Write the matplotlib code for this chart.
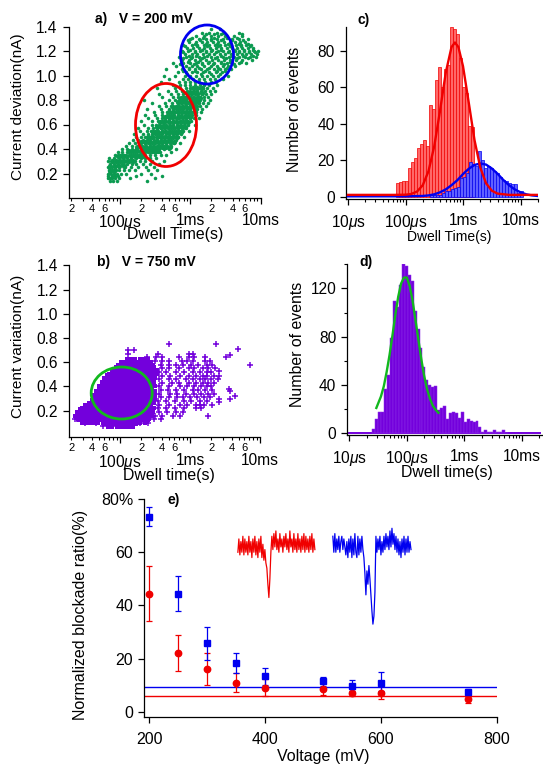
import numpy as np
import matplotlib
matplotlib.use("Agg")
import matplotlib.pyplot as plt
from matplotlib.patches import Ellipse
from matplotlib.ticker import FuncFormatter, LogLocator, MultipleLocator, NullFormatter

plt.rcParams["font.family"] = ["Liberation Sans", "DejaVu Sans"]
plt.rcParams["mathtext.fontset"] = "custom"
plt.rcParams["mathtext.rm"] = "Liberation Sans"
plt.rcParams["mathtext.it"] = "Liberation Sans:italic"

W, H = 543, 766

GREEN = "#0b9a50"
PURPLE = "#7300dc"

# panel a: current rows (nA) and the log10 dwell times seen along each row
a_current = [0.14, 0.16, 0.18, 0.20, 0.225, 0.25, 0.275, 0.30, 0.325, 0.35, 0.375, 0.40, 0.425, 0.45,
             0.475, 0.50, 0.525, 0.55, 0.575, 0.60, 0.625, 0.65, 0.675, 0.70, 0.725, 0.75, 0.775, 0.80,
             0.825, 0.85, 0.875, 0.90, 0.925, 0.95, 0.975, 1.00, 1.025, 1.05, 1.075, 1.10, 1.125, 1.15,
             1.175, 1.20, 1.225, 1.25, 1.275, 1.30, 1.325, 1.35, 1.38]
a_dwell = [
    [-4.15, -4.10, -4.05, -3.62],
    [-4.18, -4.14, -4.11, -4.07, -4.02, -3.86, -3.50],
    [-4.17, -4.12, -4.08, -4.03, -3.78, -3.41],
    [-4.18, -4.13, -4.09, -4.04, -3.99, -3.92, -3.70, -3.56],
    [-4.16, -4.11, -4.06, -4.01, -3.95, -3.87, -3.79, -3.60, -3.47],
    [-4.17, -4.12, -4.07, -4.02, -3.93, -3.84, -3.74, -3.63, -3.52],
    [-4.15, -4.09, -4.03, -3.97, -3.90, -3.83, -3.77, -3.68, -3.58, -3.44],
    [-4.18, -4.12, -4.05, -3.98, -3.92, -3.85, -3.79, -3.72, -3.65, -3.55, -3.38],
    [-4.16, -4.09, -4.02, -3.96, -3.90, -3.84, -3.78, -3.71, -3.64, -3.57, -3.49],
    [-4.07, -4.00, -3.94, -3.88, -3.82, -3.76, -3.70, -3.64, -3.58, -3.51, -3.42, -3.34],
    [-4.03, -3.97, -3.90, -3.84, -3.79, -3.72, -3.67, -3.61, -3.55, -3.49, -3.43, -3.28],
    [-3.98, -3.90, -3.83, -3.77, -3.71, -3.66, -3.60, -3.55, -3.49, -3.44, -3.38, -3.31, -3.21],
    [-3.92, -3.83, -3.75, -3.69, -3.63, -3.58, -3.53, -3.48, -3.43, -3.38, -3.33, -3.27],
    [-3.88, -3.79, -3.72, -3.65, -3.60, -3.55, -3.50, -3.45, -3.40, -3.35, -3.29, -3.23, -3.15],
    [-3.81, -3.74, -3.68, -3.62, -3.57, -3.52, -3.47, -3.42, -3.37, -3.32, -3.27, -3.20],
    [-3.78, -3.70, -3.64, -3.58, -3.53, -3.48, -3.43, -3.38, -3.33, -3.28, -3.23, -3.17, -3.09],
    [-3.80, -3.68, -3.61, -3.55, -3.50, -3.45, -3.40, -3.35, -3.30, -3.25, -3.20, -3.13],
    [-3.72, -3.62, -3.56, -3.51, -3.46, -3.41, -3.36, -3.31, -3.26, -3.21, -3.16, -3.10, -3.02],
    [-3.75, -3.60, -3.53, -3.47, -3.42, -3.37, -3.32, -3.27, -3.22, -3.17, -3.12, -3.06],
    [-3.66, -3.55, -3.49, -3.44, -3.39, -3.34, -3.29, -3.24, -3.19, -3.14, -3.09, -3.03, -2.94],
    [-3.70, -3.54, -3.46, -3.40, -3.35, -3.30, -3.25, -3.20, -3.15, -3.10, -3.05, -2.99],
    [-3.60, -3.47, -3.41, -3.36, -3.31, -3.26, -3.21, -3.16, -3.11, -3.06, -3.01, -2.95, -2.88],
    [-3.65, -3.50, -3.40, -3.33, -3.28, -3.23, -3.18, -3.13, -3.08, -3.03, -2.98, -2.92],
    [-3.52, -3.40, -3.33, -3.27, -3.22, -3.17, -3.12, -3.07, -3.02, -2.97, -2.92, -2.85],
    [-3.62, -3.42, -3.31, -3.25, -3.20, -3.15, -3.10, -3.05, -3.00, -2.95, -2.90, -2.84],
    [-3.45, -3.34, -3.27, -3.21, -3.16, -3.11, -3.06, -3.01, -2.96, -2.91, -2.86, -2.78],
    [-3.55, -3.36, -3.26, -3.18, -3.13, -3.08, -3.03, -2.98, -2.93, -2.88, -2.82, -2.75],
    [-3.66, -3.30, -3.22, -3.16, -3.11, -3.06, -3.01, -2.96, -2.91, -2.86, -2.80, -2.72],
    [-3.40, -3.24, -3.17, -3.11, -3.06, -3.01, -2.96, -2.91, -2.86, -2.81, -2.75],
    [-3.45, -3.28, -3.18, -3.10, -3.04, -2.99, -2.94, -2.89, -2.84, -2.78, -2.71],
    [-3.32, -3.20, -3.12, -3.05, -3.00, -2.95, -2.90, -2.85, -2.79, -2.72, -2.65],
    [-3.48, -3.22, -3.14, -3.06, -3.00, -2.94, -2.88, -2.82, -2.76, -2.68],
    [-3.25, -3.15, -3.07, -3.00, -2.93, -2.86, -2.80, -2.73, -2.62],
    [-3.42, -3.16, -3.08, -3.01, -2.94, -2.87, -2.79, -2.71, -2.64],
    [-3.30, -3.10, -3.03, -2.96, -2.88, -2.80, -2.72, -2.65, -2.54],
    [-3.38, -3.22, -3.08, -3.00, -2.92, -2.84, -2.76, -2.68, -2.60, -2.46],
    [-3.18, -3.06, -2.97, -2.90, -2.82, -2.73, -2.64, -2.55],
    [-3.34, -3.12, -3.02, -2.94, -2.85, -2.76, -2.66, -2.58, -2.50, -2.42],
    [-3.20, -3.06, -2.98, -2.90, -2.80, -2.71, -2.62, -2.54, -2.46, -2.36],
    [-3.25, -3.10, -3.00, -2.92, -2.84, -2.75, -2.66, -2.57, -2.48, -2.40, -2.30, -2.20],
    [-3.12, -3.02, -2.94, -2.86, -2.78, -2.69, -2.60, -2.52, -2.44, -2.35, -2.26, -2.12],
    [-3.16, -3.06, -2.97, -2.88, -2.80, -2.70, -2.62, -2.54, -2.45, -2.38, -2.30, -2.22, -2.15, -2.07],
    [-3.08, -2.98, -2.90, -2.82, -2.74, -2.66, -2.58, -2.50, -2.42, -2.34, -2.27, -2.20, -2.13, -2.05],
    [-3.12, -3.03, -2.94, -2.86, -2.78, -2.70, -2.61, -2.53, -2.45, -2.37, -2.30, -2.23, -2.16, -2.09, -2.03],
    [-3.05, -2.96, -2.88, -2.80, -2.72, -2.64, -2.56, -2.48, -2.40, -2.33, -2.26, -2.18, -2.11],
    [-3.10, -2.98, -2.90, -2.81, -2.73, -2.65, -2.58, -2.50, -2.43, -2.35, -2.28, -2.20, -2.14],
    [-3.02, -2.92, -2.84, -2.76, -2.68, -2.60, -2.52, -2.44, -2.36, -2.29, -2.22],
    [-3.00, -2.88, -2.78, -2.70, -2.62, -2.53, -2.40, -2.30, -2.18],
    [-2.92, -2.80, -2.71, -2.60, -2.50, -2.38, -2.27],
    [-2.84, -2.74, -2.62, -2.54, -2.30],
    [-2.70, -2.58],
]
# panel a: where the band is solid
a_core_current = [0.22, 0.26, 0.30, 0.34, 0.38, 0.42, 0.46, 0.50, 0.54, 0.58, 0.62, 0.66, 0.70, 0.74, 0.78, 0.82, 0.86, 0.90]
a_core_dwell = [
    [-4.15, -4.09],
    [-4.14, -4.08, -4.02, -3.94],
    [-4.12, -4.06, -4.00, -3.94, -3.88, -3.82],
    [-4.03, -3.97, -3.91, -3.85, -3.79, -3.73, -3.67],
    [-3.88, -3.82, -3.76, -3.70, -3.64, -3.58, -3.52, -3.46],
    [-3.76, -3.70, -3.64, -3.58, -3.52, -3.46, -3.40, -3.34, -3.29],
    [-3.70, -3.64, -3.58, -3.52, -3.46, -3.40, -3.34, -3.28, -3.23],
    [-3.60, -3.54, -3.48, -3.42, -3.36, -3.30, -3.24, -3.19],
    [-3.53, -3.47, -3.41, -3.35, -3.29, -3.23, -3.17, -3.13],
    [-3.48, -3.42, -3.36, -3.30, -3.24, -3.18, -3.12, -3.07],
    [-3.43, -3.37, -3.31, -3.25, -3.19, -3.13, -3.07, -3.03],
    [-3.36, -3.30, -3.24, -3.18, -3.12, -3.06, -3.00],
    [-3.30, -3.24, -3.18, -3.12, -3.06, -3.00, -2.94],
    [-3.24, -3.18, -3.12, -3.06, -3.00, -2.94],
    [-3.18, -3.12, -3.06, -3.00, -2.94, -2.89],
    [-3.13, -3.07, -3.01, -2.95, -2.89, -2.86],
    [-3.03, -2.97, -2.91, -2.84],
    [-2.96, -2.90, -2.84],
]
# panel a: points between the rows of the upper lobe
a_extra_current = [1.01, 1.04, 1.06, 1.09, 1.11, 1.14, 1.16, 1.19, 1.21, 1.24, 1.26, 1.29, 1.31, 1.34]
a_extra_dwell = [
    [-3.05, -2.85, -2.70, -2.58],
    [-3.10, -2.93, -2.79, -2.62, -2.50],
    [-3.02, -2.88, -2.74, -2.60, -2.48],
    [-3.14, -2.95, -2.83, -2.68, -2.52, -2.38],
    [-3.04, -2.89, -2.73, -2.56, -2.44, -2.28],
    [-3.10, -2.99, -2.83, -2.65, -2.49, -2.33, -2.18],
    [-3.02, -2.92, -2.76, -2.57, -2.41, -2.25, -2.10],
    [-3.11, -2.94, -2.78, -2.63, -2.47, -2.31, -2.17, -2.08],
    [-3.00, -2.84, -2.69, -2.56, -2.38, -2.24, -2.11],
    [-3.07, -2.91, -2.76, -2.60, -2.44, -2.28, -2.15],
    [-2.94, -2.77, -2.62, -2.46, -2.31, -2.18],
    [-3.03, -2.86, -2.70, -2.57, -2.41, -2.25],
    [-2.97, -2.82, -2.66, -2.48, -2.34],
    [-2.78, -2.66, -2.56, -2.26],
]

# panel b: dense core of the cloud
b_core_current = [0.09, 0.12, 0.155, 0.19, 0.225, 0.26, 0.295, 0.33, 0.365, 0.40, 0.435, 0.47, 0.505, 0.54, 0.575, 0.605]
b_core_dwell = [
    [-4.17, -4.11, -4.05, -3.99, -3.93, -3.87, -3.82],
    [-4.55, -4.49, -4.43, -4.37, -4.31, -4.25, -4.19, -4.13, -4.07, -4.01, -3.95, -3.89, -3.83, -3.77, -3.71, -3.65],
    [-4.60, -4.54, -4.48, -4.42, -4.36, -4.30, -4.24, -4.18, -4.12, -4.06, -4.00, -3.94, -3.88, -3.82, -3.76, -3.70, -3.64, -3.59],
    [-4.57, -4.51, -4.45, -4.39, -4.33, -4.27, -4.21, -4.15, -4.09, -4.03, -3.97, -3.91, -3.85, -3.79, -3.73, -3.67, -3.61, -3.57],
    [-4.50, -4.44, -4.38, -4.32, -4.26, -4.20, -4.14, -4.08, -4.02, -3.96, -3.90, -3.84, -3.78, -3.72, -3.66, -3.60, -3.56],
    [-4.40, -4.34, -4.28, -4.22, -4.16, -4.10, -4.04, -3.98, -3.92, -3.86, -3.80, -3.74, -3.68, -3.62, -3.56],
    [-4.35, -4.29, -4.23, -4.17, -4.11, -4.05, -3.99, -3.93, -3.87, -3.81, -3.75, -3.69, -3.63, -3.57, -3.54],
    [-4.33, -4.27, -4.21, -4.15, -4.09, -4.03, -3.97, -3.91, -3.85, -3.79, -3.73, -3.67, -3.61, -3.55],
    [-4.30, -4.24, -4.18, -4.12, -4.06, -4.00, -3.94, -3.88, -3.82, -3.76, -3.70, -3.64, -3.58, -3.54],
    [-4.26, -4.20, -4.14, -4.08, -4.02, -3.96, -3.90, -3.84, -3.78, -3.72, -3.66, -3.60, -3.54],
    [-4.22, -4.16, -4.10, -4.04, -3.98, -3.92, -3.86, -3.80, -3.74, -3.68, -3.62, -3.56],
    [-4.18, -4.12, -4.06, -4.00, -3.94, -3.88, -3.82, -3.76, -3.70, -3.64, -3.58, -3.54],
    [-4.12, -4.06, -4.00, -3.94, -3.88, -3.82, -3.76, -3.70, -3.64, -3.58, -3.52],
    [-4.06, -4.00, -3.94, -3.88, -3.82, -3.76, -3.70, -3.64, -3.58, -3.52],
    [-3.98, -3.92, -3.86, -3.80, -3.74, -3.68, -3.62, -3.57],
    [-3.90, -3.84, -3.78, -3.72, -3.66, -3.60],
]

# panel b: sparser crosses around the core
b_current = [0.07, 0.10, 0.13, 0.16, 0.19, 0.22, 0.25, 0.28, 0.31, 0.34, 0.37, 0.40, 0.43, 0.46, 0.49,
             0.52, 0.55, 0.58, 0.61, 0.64, 0.67, 0.70, 0.75]
b_dwell = [
    [-4.25, -4.12, -3.90],
    [-4.50, -4.35, -3.72, -3.60],
    [-4.65, -4.62, -3.52, -3.42],
    [-3.50, -3.40, -3.25, -3.14, -2.74],
    [-3.45, -3.33, -3.20, -3.10],
    [-3.46, -3.35, -3.22, -3.08, -2.92, -2.85],
    [-3.44, -3.30, -3.15, -3.04, -2.92, -2.86, -2.80, -2.68],
    [-3.46, -3.35, -3.22, -3.08, -2.98, -2.86, -2.76],
    [-3.42, -3.30, -3.18, -3.10, -3.00, -2.90, -2.80, -2.72],
    [-3.45, -3.28, -3.18, -3.06, -2.94, -2.84, -2.74, -2.66],
    [-3.42, -3.32, -3.20, -3.08, -2.96, -2.88, -2.78, -2.68],
    [-3.44, -3.30, -3.14, -3.04, -2.94, -2.84, -2.76, -2.70],
    [-3.40, -3.26, -3.16, -3.02, -2.92, -2.82, -2.74, -2.66],
    [-3.44, -3.30, -3.20, -3.06, -2.96, -2.86, -2.78, -2.70, -2.60],
    [-3.40, -3.28, -3.14, -3.02, -2.92, -2.82, -2.76, -2.66, -2.58],
    [-3.44, -3.34, -3.20, -3.08, -2.96, -2.86, -2.76, -2.70],
    [-3.40, -3.30, -3.16, -3.02, -2.94, -2.82, -2.74, -2.64],
    [-3.42, -3.30, -3.20, -3.10, -2.98, -2.88, -2.76, -2.68],
    [-3.50, -3.40, -3.30, -3.12, -3.04, -2.96, -2.78, -2.72],
    [-3.62, -3.48, -3.40, -3.16, -3.02, -2.95, -2.78],
    [-3.88, -3.46, -3.02, -2.96],
    [-3.88, -3.80],
    [-3.30, -2.63],
]
# far points at the right of panel b
b_far_current = [0.71, 0.66, 0.64, 0.58, 0.53, 0.38, 0.36, 0.30, 0.30, 0.32, 0.27]
b_far_dwell = [-2.31, -2.43, -2.48, -2.14, -2.59, -2.45, -2.43, -2.58, -2.43, -2.36, -2.58]

# panel c: histograms, counts per log bin
c_red_counts = [7.3, 8.2, 8.8, 8.5, 15.5, 19, 21, 26.5, 29, 31, 28, 50, 48, 64, 71, 60, 70, 72, 93, 92, 89,
                76, 60, 57, 39, 38]
c_blue_counts = [1, 1, 1, 1, 2, 3, 3, 4, 5, 5.5, 10, 11, 13, 18.8, 17.7, 16.8, 25, 20, 15.5, 16.8, 15.9, 14.3,
                 12.8, 11, 9.2, 8.8, 7.4, 6.8, 6.8, 1.8, 3]
c_red_fit_t = [-5.0, -4.5, -4.2, -4.0, -3.9, -3.8, -3.7, -3.6, -3.5, -3.4, -3.3, -3.2, -3.14, -3.08, -3.0,
               -2.9, -2.8, -2.7, -2.6, -2.5, -2.4, -2.2, -1.7]
c_red_fit_y = [1, 1, 1, 1.1, 1.5, 2.8, 6.3, 14, 27.7, 47, 68, 82, 84.5, 82, 71.5, 51.5, 31, 16, 7.4, 3.3, 1.7, 1, 1]
c_blue_fit_t = [-5.0, -4.0, -3.7, -3.6, -3.5, -3.4, -3.3, -3.2, -3.1, -3.0, -2.9, -2.8, -2.7, -2.6, -2.5, -2.4,
                -2.3, -2.2, -2.1, -2.0, -1.9, -1.8, -1.7]
c_blue_fit_y = [0.2, 0.2, 0.4, 0.7, 1.3, 2.4, 4, 6.3, 9, 12.4, 15.3, 17.4, 18.2, 17.6, 15.5, 12.6, 9.2, 6.3, 4,
                2.4, 1.3, 0.7, 0.4]

# panel d
d_counts = [3.6, 12, 18, 17.5, 37, 48, 79, 110, 105, 123, 140, 139, 131, 126, 101, 86, 71, 55, 44, 40, 38, 39,
            19, 21, 22.6, 12, 16.6, 18, 16.6, 12.4, 18, 9.6, 11.6, 10, 9.6, 10, 5.5, 1.4, 3, 0.8, 0.8, 3, 0.8,
            0.8, 3, 0.5]
d_fit_t = [-4.53, -4.45, -4.40, -4.35, -4.30, -4.25, -4.20, -4.15, -4.10, -4.05, -4.00, -3.95, -3.90, -3.85,
           -3.80, -3.75, -3.70, -3.65, -3.60, -3.55, -3.50, -3.45]
d_fit_y = [21, 30.5, 39, 51, 65, 81, 98, 113, 124, 129, 129, 122, 110, 94, 78, 62, 48, 37, 29, 23, 19.6, 17]

# panel e
voltage = [200, 250, 300, 350, 400, 500, 550, 600, 750]
blue_ratio = [73.3, 44.5, 26, 18.3, 13.6, 11.5, 9.6, 11, 7.5]
blue_low = [69.8, 38, 19.7, 14.7, 10, 9.8, 8.5, 8, 6.5]
blue_high = [77, 51, 32, 22.3, 16.7, 13, 12, 15, 8.5]
red_ratio = [44.4, 22.2, 16.1, 11, 9, 8.7, 7, 7.3, 4.7]
red_low = [34, 15.3, 10.3, 7.4, 6, 6.5, 6, 4.7, 3.5]
red_high = [55, 29, 22, 14.5, 12.5, 11, 8, 10, 6]
blue_mean = 9.5
red_mean = 6.1

red_trace = [60, 65, 59, 64, 60, 66, 59, 65, 60, 64, 59, 66, 60, 64, 58, 65, 60, 66, 59, 64, 58, 65, 60, 66, 58,
             63, 57, 61, 56, 54, 48, 43, 50, 60, 66, 61, 67, 62, 68, 61, 65, 60, 67,
             62, 65, 60, 66, 62, 67, 61, 65, 60, 68, 62, 65, 60, 67, 61, 65, 60, 67, 61, 65, 60, 66, 61, 67, 60,
             66, 61, 65, 60, 66, 61, 67, 60, 65, 61]
blue_trace = [66, 60, 67, 60, 65, 61, 66, 60, 64, 66, 61, 65, 62, 59, 64, 58, 65, 60, 66, 58, 65, 59, 67, 60, 58,
              66, 59, 65, 60, 66, 61, 58, 52, 44, 53, 48, 55, 50, 44, 38, 33, 36, 45, 66, 60, 65, 61, 66, 59, 64,
              60, 66, 61, 67, 62, 66, 61, 68, 62, 69, 63, 67, 61, 66, 60, 65, 59, 64, 58, 65, 60, 66, 59, 65, 60,
              66, 60, 64, 61]


def px_axes(left, top, right, bottom):
    ax = fig.add_axes([left / W, 1 - bottom / H, (right - left) / W, (bottom - top) / H])
    ax.patch.set_alpha(0)
    ax.spines["top"].set_visible(False)
    ax.spines["right"].set_visible(False)
    ax.spines["left"].set_linewidth(0.9)
    ax.spines["bottom"].set_linewidth(0.9)
    ax.tick_params(which="major", direction="out", length=4.5, width=0.9, labelsize=11.2)
    ax.tick_params(which="minor", direction="out", length=2.5, width=0.8)
    return ax


def px_text(x, y, s, **kw):
    kw.setdefault("ha", "center")
    kw.setdefault("va", "center")
    fig.text(x / W, 1 - y / H, s, **kw)


def log_xaxis(ax, ticks, labels, pad, minor_labels):
    ax.set_xscale("log")
    ax.set_xticks(ticks, labels)
    ax.xaxis.set_minor_locator(LogLocator(base=10, subs=range(2, 10), numticks=20))
    if minor_labels:
        def fmt(v, pos):
            d = int(round(v / 10 ** np.floor(np.log10(v))))
            return str(d) if d in (2, 4, 6) else ""
        ax.xaxis.set_minor_formatter(FuncFormatter(fmt))
        ax.tick_params(axis="x", which="minor", labelsize=8, pad=1.5)
    else:
        ax.xaxis.set_minor_formatter(NullFormatter())
    ax.tick_params(axis="x", which="major", pad=pad, labelsize=11.2)


def px_ellipse(ax, left, top, right, bottom, cx, cy, w, h, color):
    # ellipse given in figure pixels, drawn in axes fractions so the log axis does not bend it
    ax.add_patch(Ellipse(((cx - left) / (right - left), (bottom - cy) / (bottom - top)),
                         w / (right - left), h / (bottom - top),
                         transform=ax.transAxes, fill=False, edgecolor=color, linewidth=2.0, clip_on=False,
                         zorder=5))


def flatten(rows_y, rows_x):
    xs, ys = [], []
    for y, row in zip(rows_y, rows_x):
        xs += [10.0 ** v for v in row]
        ys += [y] * len(row)
    return xs, ys


def log_hist(ax, start, pitch, counts, **kw):
    edges = 10.0 ** (start + pitch * np.arange(len(counts) + 1))
    ax.bar(edges[:-1], counts, width=np.diff(edges), align="edge", **kw)


fig = plt.figure(figsize=(W / 100, H / 100), dpi=100)

# a)
ax = px_axes(68.5, 26.5, 260.5, 198)
ax.set_ylim(0, 1.4)
ax.set_xlim(10 ** -4.736, 1e-2)
log_xaxis(ax, [1e-4, 1e-3, 1e-2], [r"100$\mu$s", "1ms", "10ms"], 6, True)
ax.set_yticks([0.2, 0.4, 0.6, 0.8, 1.0, 1.2, 1.4], ["0.2", "0.4", "0.6", "0.8", "1.0", "1.2", "1.4"])
xs, ys = flatten(a_current, a_dwell)
ax.scatter(xs, ys, s=6.5, color=GREEN, linewidths=0, clip_on=False)
xs, ys = flatten(a_extra_current, a_extra_dwell)
ax.scatter(xs, ys, s=6.5, color=GREEN, linewidths=0, clip_on=False)
xs, ys = flatten(a_core_current, a_core_dwell)
ax.scatter(xs, ys, s=14, color=GREEN, linewidths=0, clip_on=False)
px_ellipse(ax, 68.5, 26.5, 260.5, 198, 166, 125, 61, 83, "#f00000")
px_ellipse(ax, 68.5, 26.5, 260.5, 198, 207, 54.5, 53, 59, "#0000f0")

# b)
ax = px_axes(69, 265.3, 260, 437)
ax.set_ylim(-0.017, 1.4)
ax.set_xlim(10 ** -4.729, 1e-2)
log_xaxis(ax, [1e-4, 1e-3, 1e-2], [r"100$\mu$s", "1ms", "10ms"], 6.7, True)
ax.set_yticks([0.2, 0.4, 0.6, 0.8, 1.0, 1.2, 1.4], ["0.2", "0.4", "0.6", "0.8", "1.0", "1.2", "1.4"])
xs, ys = flatten(b_core_current, b_core_dwell)
ax.plot(xs, ys, ls="", marker="P", ms=6.5, color=PURPLE, mew=0)
xs, ys = flatten(b_current, b_dwell)
ax.plot(xs, ys, ls="", marker="+", ms=4.5, mew=1.1, color=PURPLE)
ax.plot(10.0 ** np.array(b_far_dwell), b_far_current, ls="", marker="+", ms=4.5, mew=1.1, color=PURPLE)
px_ellipse(ax, 69, 265.3, 260, 437, 121.7, 393, 61, 52, "#12b81e")

# c)
ax = px_axes(345.7, 27, 538, 199)
ax.set_ylim(-1.26, 93)
ax.set_xlim(10 ** -5.04, 10 ** -1.696)
log_xaxis(ax, [1e-5, 1e-4, 1e-3, 1e-2], [r"10$\mu$s", r"100$\mu$s", "1ms", "10ms"], 5.4, False)
ax.set_yticks([0, 20, 40, 60, 80], ["0", "20", "40", "60", "80"])
log_hist(ax, -4.165, 0.0522, c_red_counts, facecolor="#ff6868", edgecolor="#f00000", linewidth=0.5, zorder=2)
log_hist(ax, -3.58, 0.0522, c_blue_counts, facecolor="#6060ff", edgecolor="#0000f0", linewidth=0.5, zorder=3)
ax.plot(10.0 ** np.array(c_blue_fit_t), c_blue_fit_y, color="#0000f0", lw=1.7, zorder=4, solid_joinstyle="round")
ax.plot(10.0 ** np.array(c_red_fit_t), c_red_fit_y, color="#f00000", lw=1.7, zorder=5, solid_joinstyle="round")

# d)
ax = px_axes(347.3, 264.3, 541.7, 435)
ax.set_ylim(-1.4, 140)
ax.set_xlim(10 ** -5.035, 10 ** -1.654)
log_xaxis(ax, [1e-5, 1e-4, 1e-3, 1e-2], [r"10$\mu$s", r"100$\mu$s", "1ms", "10ms"], 5.6, False)
ax.set_yticks([0, 40, 80, 120], ["0", "40", "80", "120"])
ax.yaxis.set_minor_locator(MultipleLocator(20))
ax.plot([1e-5, 10 ** -1.68], [0, 0], color=PURPLE, lw=1.4, zorder=1)
log_hist(ax, -4.6, 0.0513, d_counts, facecolor=PURPLE, edgecolor="#8c30e8", linewidth=0.35, zorder=2)
ax.plot(10.0 ** np.array(d_fit_t), d_fit_y, color="#12b81e", lw=1.7, zorder=4)

# e)
ax = px_axes(144.3, 499, 496.7, 717)
ax.set_xlim(191.4, 800)
ax.set_ylim(-1.88, 80)
ax.set_xticks([200, 400, 600, 800], ["200", "400", "600", "800"])
ax.set_yticks([0, 20, 40, 60, 80], ["0", "20", "40", "60", "80%"])
ax.tick_params(axis="both", which="major", labelsize=11.5)
ax.tick_params(axis="x", which="major", pad=6.4)
ax.plot([191.4, 800], [blue_mean, blue_mean], color="#0000f0", lw=1)
ax.plot([191.4, 800], [red_mean, red_mean], color="#f00000", lw=1)
v = np.array(voltage)
for ratio, low, high, col, mk, ms in [(red_ratio, red_low, red_high, "#f00000", "o", 4.6),
                                      (blue_ratio, blue_low, blue_high, "#0000f0", "s", 4.4)]:
    r = np.array(ratio)
    err = [r - np.array(low), np.array(high) - r]
    ax.errorbar(v, r, yerr=err, fmt=mk, ms=ms, color=col, ecolor=col, elinewidth=0.9, capsize=2.2, capthick=0.9,
                clip_on=False)
ax.plot(np.linspace(353, 486, len(red_trace)), red_trace, color="#f00000", lw=0.9)
ax.plot(np.linspace(517, 652, len(blue_trace)), blue_trace, color="#0000f0", lw=0.9)

# text placed where the reference has it
px_text(18, 107, "Current deviation(nA)", rotation=90, fontsize=11.1)
px_text(175, 235, "Dwell Time(s)", fontsize=11.4)
px_text(95, 19, "a)   V = 200 mV", ha="left", fontsize=10, fontweight="bold")
px_text(18, 346, "Current variation(nA)", rotation=90, fontsize=11.1)
px_text(169, 475, "Dwell time(s)", fontsize=11.4)
px_text(97, 262, "b)   V = 750 mV", ha="left", fontsize=10, fontweight="bold")
px_text(295, 109, "Number of events", rotation=90, fontsize=11.4)
px_text(449, 237, "Dwell Time(s)", fontsize=10)
px_text(357, 20, "c)", ha="left", fontsize=10, fontweight="bold")
px_text(297, 344, "Number of events", rotation=90, fontsize=11.4)
px_text(447, 473, "Dwell time(s)", fontsize=11.4)
px_text(359, 262, "d)", ha="left", fontsize=10, fontweight="bold")
px_text(80, 615, "Normalized blockade ratio(%)", rotation=90, fontsize=11.5)
px_text(323, 757, "Voltage (mV)", fontsize=11.5)
px_text(168, 500, "e)", ha="left", fontsize=10, fontweight="bold")

fig.savefig("out.png", dpi=100)
